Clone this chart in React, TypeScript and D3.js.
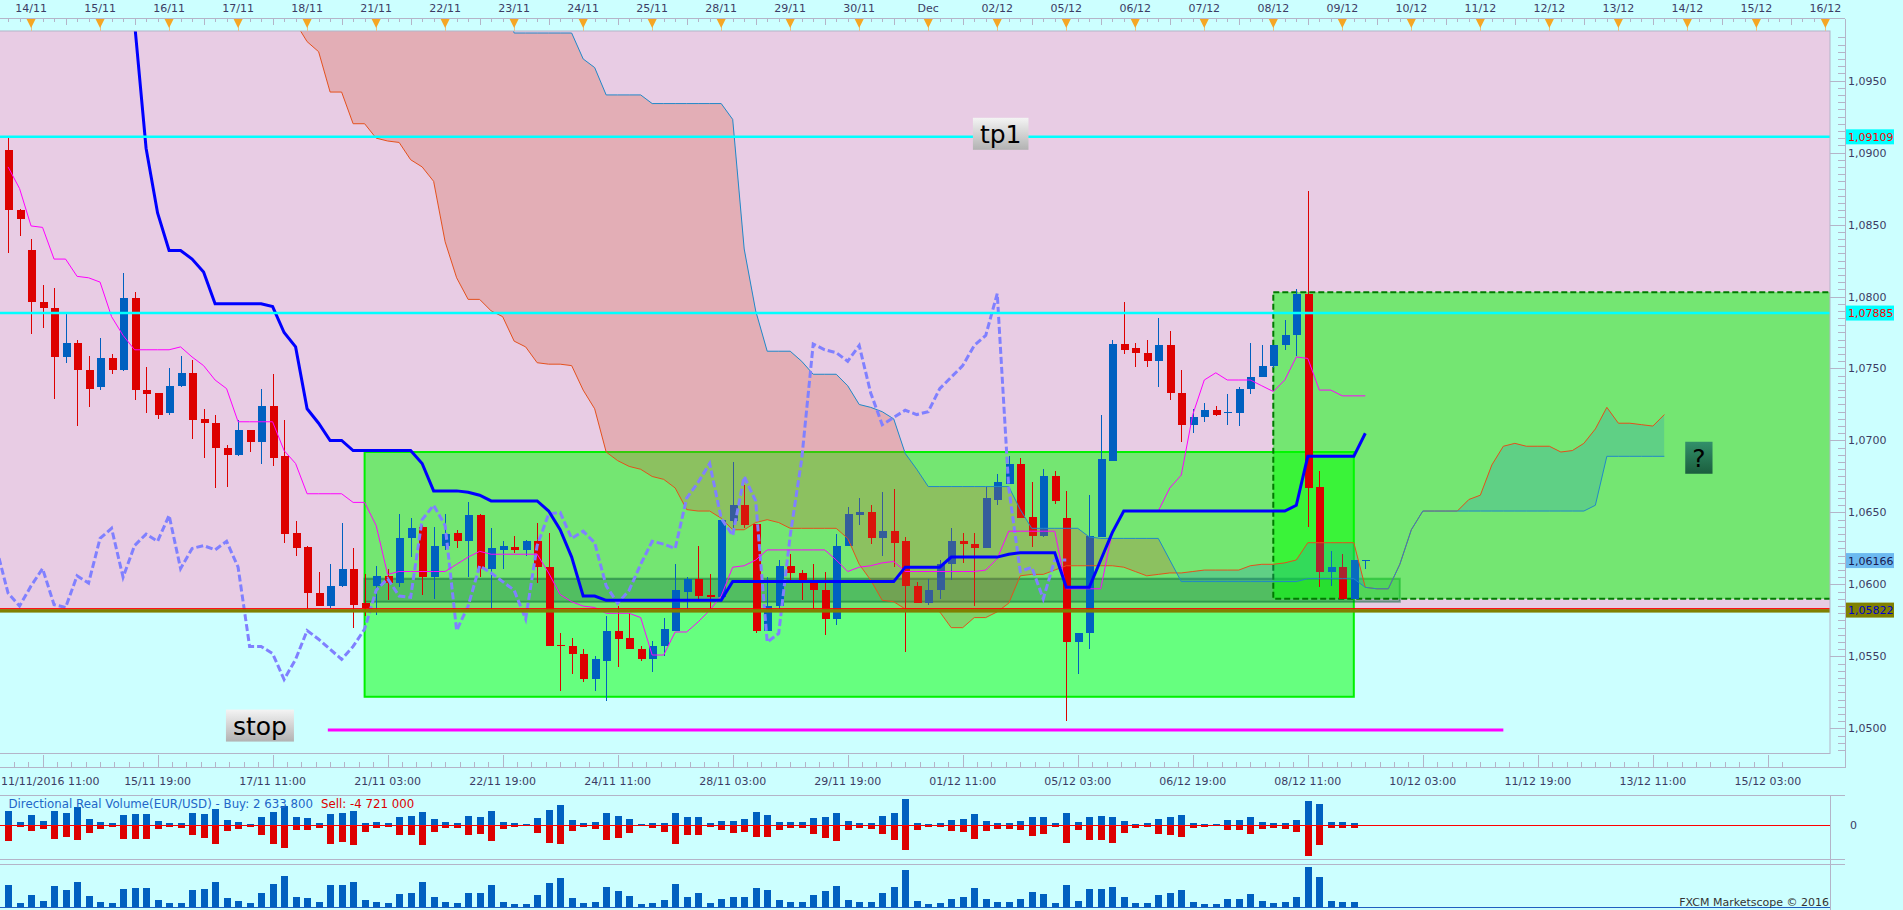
import { useEffect, useRef } from "react";
import * as d3 from "d3";

// 4h candles, index 0 = first visible candle
const open = [
  1.0902, 1.0860, 1.0832, 1.0796, 1.0792, 1.0758, 1.0768, 1.0749, 1.0737, 1.0757,
  1.0749, 1.0799, 1.0735, 1.0733, 1.0719, 1.0738, 1.0747, 1.0715, 1.0712, 1.0695,
  1.0690, 1.0707, 1.0699, 1.0724, 1.0689, 1.0636, 1.0626, 1.0594, 1.0585, 1.0599,
  1.0611, 1.0587, 1.0599, 1.0606, 1.0601, 1.0632, 1.0640, 1.0605, 1.0627, 1.0636,
  1.0630, 1.0648, 1.0611, 1.0624, 1.0626, 1.0624, 1.0630, 1.0612, 1.0558, 1.0557,
  1.0552, 1.0534, 1.0547, 1.0568, 1.0563, 1.0555, 1.0548, 1.0557, 1.0568, 1.0595,
  1.0604, 1.0593, 1.0591, 1.0644, 1.0655, 1.0642, 1.0568, 1.0585, 1.0613, 1.0608,
  1.0603, 1.0596, 1.0576, 1.0627, 1.0648, 1.0650, 1.0632, 1.0637, 1.0630, 1.0599,
  1.0587, 1.0596, 1.0614, 1.0630, 1.0628, 1.0625, 1.0659, 1.0670, 1.0684, 1.0647,
  1.0634, 1.0675, 1.0646, 1.0560, 1.0566, 1.0633, 1.0686, 1.0767, 1.0764, 1.0761,
  1.0755, 1.0766, 1.0733, 1.0711, 1.0716, 1.0721, 1.0719, 1.0719, 1.0736, 1.0744,
  1.0752, 1.0766, 1.0773, 1.0802, 1.0668, 1.0609, 1.0612, 1.0590, 1.0617,
];
const high = [
  1.0911, 1.0861, 1.0840, 1.0808, 1.0806, 1.0788, 1.0770, 1.0759, 1.0771, 1.0760,
  1.0816, 1.0803, 1.0751, 1.0733, 1.0750, 1.0759, 1.0756, 1.0722, 1.0718, 1.0697,
  1.0714, 1.0707, 1.0736, 1.0746, 1.0714, 1.0644, 1.0627, 1.0609, 1.0614, 1.0643,
  1.0625, 1.0607, 1.0613, 1.0611, 1.0649, 1.0646, 1.0641, 1.0640, 1.0649, 1.0638,
  1.0657, 1.0649, 1.0639, 1.0630, 1.0634, 1.0631, 1.0643, 1.0636, 1.0566, 1.0563,
  1.0555, 1.0550, 1.0578, 1.0585, 1.0580, 1.0557, 1.0561, 1.0577, 1.0614, 1.0605,
  1.0627, 1.0607, 1.0645, 1.0685, 1.0669, 1.0642, 1.0605, 1.0617, 1.0621, 1.0610,
  1.0614, 1.0609, 1.0635, 1.0654, 1.0660, 1.0655, 1.0664, 1.0666, 1.0633, 1.0602,
  1.0604, 1.0617, 1.0639, 1.0636, 1.0636, 1.0668, 1.0677, 1.0689, 1.0688, 1.0671,
  1.0680, 1.0679, 1.0665, 1.0566, 1.0662, 1.0718, 1.0770, 1.0796, 1.0768, 1.0770,
  1.0785, 1.0776, 1.0749, 1.0722, 1.0726, 1.0724, 1.0732, 1.0737, 1.0768, 1.0766,
  1.0766, 1.0784, 1.0805, 1.0873, 1.0679, 1.0623, 1.0621, 1.0617, 1.0617,
];
const low = [
  1.0830, 1.0842, 1.0774, 1.0778, 1.0729, 1.0754, 1.0710, 1.0723, 1.0735, 1.0746,
  1.0748, 1.0728, 1.0719, 1.0715, 1.0718, 1.0737, 1.0701, 1.0688, 1.0667, 1.0668,
  1.0689, 1.0692, 1.0684, 1.0682, 1.0629, 1.0620, 1.0583, 1.0585, 1.0584, 1.0598,
  1.0570, 1.0578, 1.0579, 1.0589, 1.0598, 1.0619, 1.0593, 1.0590, 1.0624, 1.0625,
  1.0605, 1.0605, 1.0583, 1.0611, 1.0622, 1.0620, 1.0601, 1.0557, 1.0526, 1.0538,
  1.0532, 1.0526, 1.0519, 1.0543, 1.0555, 1.0547, 1.0539, 1.0550, 1.0568, 1.0583,
  1.0589, 1.0583, 1.0589, 1.0638, 1.0639, 1.0566, 1.0568, 1.0583, 1.0602, 1.0589,
  1.0583, 1.0565, 1.0572, 1.0627, 1.0641, 1.0628, 1.0620, 1.0612, 1.0553, 1.0587,
  1.0586, 1.0590, 1.0603, 1.0615, 1.0585, 1.0625, 1.0655, 1.0670, 1.0646, 1.0626,
  1.0633, 1.0656, 1.0505, 1.0538, 1.0555, 1.0633, 1.0686, 1.0760, 1.0751, 1.0751,
  1.0737, 1.0728, 1.0699, 1.0705, 1.0713, 1.0717, 1.0711, 1.0710, 1.0732, 1.0744,
  1.0750, 1.0763, 1.0759, 1.0640, 1.0598, 1.0599, 1.0590, 1.0590, 1.0611,
];
const close = [
  1.0860, 1.0854, 1.0796, 1.0792, 1.0758, 1.0768, 1.0749, 1.0736, 1.0757, 1.0749,
  1.0799, 1.0735, 1.0732, 1.0718, 1.0738, 1.0747, 1.0714, 1.0712, 1.0695, 1.0690,
  1.0707, 1.0699, 1.0724, 1.0688, 1.0635, 1.0625, 1.0594, 1.0585, 1.0599, 1.0611,
  1.0586, 1.0584, 1.0606, 1.0601, 1.0632, 1.0639, 1.0605, 1.0627, 1.0635, 1.0630,
  1.0648, 1.0611, 1.0625, 1.0627, 1.0624, 1.0630, 1.0612, 1.0557, 1.0557, 1.0552,
  1.0534, 1.0548, 1.0568, 1.0562, 1.0555, 1.0548, 1.0557, 1.0569, 1.0596, 1.0604,
  1.0592, 1.0591, 1.0645, 1.0655, 1.0641, 1.0568, 1.0585, 1.0613, 1.0608, 1.0602,
  1.0596, 1.0576, 1.0627, 1.0649, 1.0650, 1.0632, 1.0637, 1.0629, 1.0599, 1.0587,
  1.0596, 1.0614, 1.0630, 1.0628, 1.0625, 1.0660, 1.0671, 1.0684, 1.0646, 1.0634,
  1.0675, 1.0658, 1.0560, 1.0566, 1.0634, 1.0687, 1.0767, 1.0763, 1.0761, 1.0755,
  1.0766, 1.0733, 1.0711, 1.0716, 1.0721, 1.0718, 1.0720, 1.0736, 1.0744, 1.0752,
  1.0766, 1.0773, 1.0802, 1.0667, 1.0609, 1.0612, 1.0590, 1.0617, 1.0617,
];

// ichimoku lines
const tenkan = [
  1.0890, 1.0875, 1.0849, 1.0848, 1.0826, 1.0826, 1.0814, 1.0813, 1.0810, 1.0786,
  1.0773, 1.0763, 1.0763, 1.0763, 1.0763, 1.0765, 1.0758, 1.0752, 1.0742, 1.0736,
  1.0713, 1.0713, 1.0713, 1.0713, 1.0693, 1.0684, 1.0663, 1.0663, 1.0663, 1.0663,
  1.0657, 1.0657, 1.0641, 1.0607, 1.0609, 1.0609, 1.0609, 1.0609, 1.0609, 1.0614,
  1.0619, 1.0623, 1.0621, 1.0621, 1.0621, 1.0621, 1.0621, 1.0608, 1.0593, 1.0588,
  1.0585, 1.0584, 1.0580, 1.0580, 1.0580, 1.0577, 1.0551, 1.0551, 1.0567, 1.0567,
  1.0574, 1.0582, 1.0592, 1.0612, 1.0613, 1.0617, 1.0624, 1.0624, 1.0624, 1.0624,
  1.0624, 1.0624, 1.0617, 1.0609, 1.0612, 1.0613, 1.0615, 1.0616, 1.0609, 1.0609,
  1.0609, 1.0609, 1.0609, 1.0609, 1.0609, 1.0610, 1.0618, 1.0637, 1.0637, 1.0637,
  1.0637, 1.0637, 1.0597, 1.0597, 1.0597, 1.0597, 1.0637, 1.0651, 1.0651, 1.0651,
  1.0651, 1.0667, 1.0676, 1.0718, 1.0742, 1.0747, 1.0742, 1.0742, 1.0742, 1.0738,
  1.0734, 1.0742, 1.0758, 1.0757, 1.0735, 1.0735, 1.0731, 1.0731, 1.0731,
];
const kijunStart = 10;
const kijun = [
  1.1010, 1.0990, 1.0903, 1.0858, 1.0832, 1.0832, 1.0826, 1.0817, 1.0795, 1.0795,
  1.0795, 1.0795, 1.0795, 1.0793, 1.0775, 1.0765, 1.0722, 1.0712, 1.0700, 1.0700,
  1.0693, 1.0693, 1.0693, 1.0693, 1.0693, 1.0693, 1.0684, 1.0665, 1.0665, 1.0665,
  1.0664, 1.0662, 1.0658, 1.0658, 1.0658, 1.0658, 1.0658, 1.0651, 1.0638, 1.0619,
  1.0592, 1.0592, 1.0589, 1.0589, 1.0589, 1.0589, 1.0589, 1.0589, 1.0589, 1.0589,
  1.0589, 1.0589, 1.0589, 1.0602, 1.0602, 1.0602, 1.0602, 1.0602, 1.0602, 1.0602,
  1.0602, 1.0602, 1.0602, 1.0602, 1.0602, 1.0602, 1.0602, 1.0602, 1.0612, 1.0612,
  1.0612, 1.0612, 1.0619, 1.0619, 1.0619, 1.0619, 1.0619, 1.0621, 1.0622, 1.0622,
  1.0622, 1.0622, 1.0598, 1.0598, 1.0598, 1.0617, 1.0636, 1.0651, 1.0651, 1.0651,
  1.0651, 1.0651, 1.0651, 1.0651, 1.0651, 1.0651, 1.0651, 1.0651, 1.0651, 1.0651,
  1.0651, 1.0651, 1.0655, 1.0689, 1.0689, 1.0689, 1.0689, 1.0689, 1.0705,
];
const chikouShift = 26;
const cloudStart = 24;
const senkouA = [
  1.1000, 1.0990, 1.0977, 1.0970, 1.0942, 1.0942, 1.0920, 1.0920, 1.0910, 1.0908,
  1.0907, 1.0895, 1.0890, 1.0880, 1.0838, 1.0813, 1.0798, 1.0798, 1.0790, 1.0786,
  1.0769, 1.0765, 1.0754, 1.0753, 1.0753, 1.0752, 1.0735, 1.0722, 1.0692, 1.0686,
  1.0682, 1.0680, 1.0675, 1.0673, 1.0667, 1.0652, 1.0651, 1.0651, 1.0646, 1.0638,
  1.0638, 1.0643, 1.0645, 1.0643, 1.0639, 1.0639, 1.0639, 1.0639, 1.0639, 1.0632,
  1.0614, 1.0603, 1.0589, 1.0588, 1.0583, 1.0583, 1.0583, 1.0581, 1.0570, 1.0570,
  1.0577, 1.0577, 1.0581, 1.0587, 1.0606, 1.0607, 1.0607, 1.0610, 1.0613, 1.0613,
  1.0613, 1.0613, 1.0613, 1.0612, 1.0609, 1.0606, 1.0607, 1.0608, 1.0608, 1.0609,
  1.0610, 1.0610, 1.0610, 1.0610, 1.0613, 1.0614, 1.0614, 1.0615, 1.0617, 1.0629,
  1.0629, 1.0629, 1.0629, 1.0629, 1.0598, 1.0597, 1.0597, 1.0614, 1.0638, 1.0651,
  1.0651, 1.0651, 1.0651, 1.0659, 1.0662, 1.0683, 1.0696, 1.0698, 1.0696, 1.0696,
  1.0696, 1.0692, 1.0693, 1.0698, 1.0708, 1.0723, 1.0712, 1.0712, 1.0711, 1.0710,
  1.0718,
];
const senkouB = [
  1.1010, 1.1010, 1.1010, 1.1010, 1.1010, 1.1010, 1.1010, 1.1010, 1.1010, 1.1010,
  1.1010, 1.1010, 1.1010, 1.1010, 1.1010, 1.1010, 1.1010, 1.1010, 1.1010, 1.1010,
  1.0983, 1.0983, 1.0983, 1.0983, 1.0983, 1.0983, 1.0965, 1.0959, 1.0940, 1.0940,
  1.0940, 1.0940, 1.0934, 1.0934, 1.0934, 1.0934, 1.0934, 1.0934, 1.0934, 1.0923,
  1.0833, 1.0790, 1.0762, 1.0762, 1.0762, 1.0755, 1.0746, 1.0746, 1.0746, 1.0738,
  1.0725, 1.0723, 1.0720, 1.0715, 1.0691, 1.0680, 1.0668, 1.0668, 1.0668, 1.0668,
  1.0668, 1.0668, 1.0668, 1.0668, 1.0652, 1.0639, 1.0639, 1.0639, 1.0639, 1.0639,
  1.0633, 1.0632, 1.0632, 1.0632, 1.0632, 1.0632, 1.0632, 1.0617, 1.0602, 1.0602,
  1.0602, 1.0602, 1.0602, 1.0602, 1.0602, 1.0602, 1.0602, 1.0602, 1.0602, 1.0604,
  1.0604, 1.0604, 1.0604, 1.0604, 1.0598, 1.0597, 1.0597, 1.0614, 1.0638, 1.0651,
  1.0651, 1.0651, 1.0651, 1.0651, 1.0651, 1.0651, 1.0651, 1.0651, 1.0651, 1.0651,
  1.0651, 1.0651, 1.0651, 1.0651, 1.0655, 1.0689, 1.0689, 1.0689, 1.0689, 1.0689,
  1.0689,
];

// volume panels (same candle index)
const buyVol = [
  43, 10, 31, 13, 43, 37, 55, 19, 10, 7, 31, 34, 34, 13, 7, 7, 37, 34, 49, 16,
  10, 4, 25, 40, 58, 25, 22, 7, 34, 37, 43, 7, 10, 7, 25, 28, 40, 19, 10, 7,
  28, 25, 43, 10, 7, 4, 22, 46, 61, 16, 7, 10, 37, 28, 19, 4, 7, 7, 37, 25,
  25, 7, 13, 13, 19, 40, 31, 10, 10, 10, 22, 25, 37, 13, 7, 7, 28, 37, 79, 7,
  4, 7, 16, 19, 34, 13, 7, 7, 13, 25, 25, 7, 37, 10, 25, 28, 25, 13, 4, 7,
  19, 25, 31, 7, 4, 4, 16, 16, 25, 10, 7, 7, 16, 73, 64, 10, 10, 7,
];
const sellVol = [
  47, 5, 17, 11, 41, 35, 44, 23, 11, 5, 41, 41, 41, 11, 5, 8, 29, 38, 56, 17,
  11, 5, 29, 56, 68, 14, 14, 8, 56, 50, 59, 20, 8, 5, 29, 29, 59, 20, 8, 8,
  29, 26, 47, 11, 5, 2, 23, 53, 56, 17, 5, 11, 44, 38, 23, 2, 8, 20, 56, 29,
  29, 5, 14, 23, 20, 35, 35, 14, 8, 8, 26, 38, 47, 14, 8, 11, 26, 44, 74, 14,
  5, 5, 17, 20, 41, 17, 11, 11, 14, 32, 26, 5, 53, 14, 44, 44, 53, 23, 8, 5,
  26, 29, 35, 8, 5, 2, 14, 14, 26, 11, 8, 11, 20, 92, 59, 8, 8, 8,
];
const totalVol = [
  65, 11, 35, 17, 62, 50, 74, 32, 14, 11, 53, 56, 56, 20, 11, 11, 50, 53, 74, 26,
  17, 11, 41, 68, 92, 29, 26, 14, 65, 65, 74, 20, 14, 11, 38, 41, 74, 29, 14, 11,
  41, 41, 65, 14, 8, 8, 35, 71, 86, 26, 11, 14, 59, 47, 32, 8, 11, 20, 68, 29,
  41, 11, 23, 29, 29, 56, 50, 20, 14, 14, 35, 47, 62, 20, 14, 14, 41, 59, 110, 17,
  8, 11, 23, 29, 56, 23, 14, 14, 23, 44, 38, 11, 65, 17, 53, 53, 59, 29, 11, 11,
  35, 41, 50, 14, 8, 8, 23, 23, 38, 17, 11, 14, 29, 119, 89, 17, 14, 14,
];

const topDays = [
  "14/11", "15/11", "16/11", "17/11", "18/11", "21/11", "22/11", "23/11", "24/11",
  "25/11", "28/11", "29/11", "30/11", "Dec", "02/12", "05/12", "06/12", "07/12",
  "08/12", "09/12", "10/12", "11/12", "12/12", "13/12", "14/12", "15/12", "16/12",
];
const bottomLabels = [
  "11/11/2016 11:00", "15/11 19:00", "17/11 11:00", "21/11 03:00", "22/11 19:00",
  "24/11 11:00", "28/11 03:00", "29/11 19:00", "01/12 11:00", "05/12 03:00",
  "06/12 19:00", "08/12 11:00", "10/12 03:00", "11/12 19:00", "13/12 11:00",
  "15/12 03:00",
];
const priceTicks = [1.05, 1.055, 1.06, 1.065, 1.07, 1.075, 1.08, 1.085, 1.09, 1.095];

// drawn objects (candle index / price)
const tpLevels = [1.09109, 1.07885];
const baseLevel = 1.05822;
const stopLine = { from: 27.8, to: 130, price: 1.0499 };
const zones = [
  { kind: "box", from: 31, to: 117, top: 1.0692, bottom: 1.0522 },
  { kind: "band", from: 31, to: 121, top: 1.0604, bottom: 1.0588 },
  { kind: "dashed", from: 110, to: 160, top: 1.0803, bottom: 1.0590 },
];
const notes = [
  { text: "tp1", k: 86.3, price: 1.0913, tone: "grey" },
  { text: "stop", k: 21.9, price: 1.0502, tone: "grey" },
  { text: "?", k: 147, price: 1.0688, tone: "green" },
];
const axisMarks = [1.09109, 1.07885, 1.06166, 1.05822];

const W = 1903;
const H = 910;

export default function App() {
  const svgRef = useRef<SVGSVGElement>(null);

  useEffect(() => {
    if (!svgRef.current) return;
    document.body.style.margin = "0";
    const svg = d3.select(svgRef.current);
    svg.selectAll("*").remove();

    const plotL = 0, plotR = 1830, plotT = 31, plotB = 753.5;
    const axisX = 1845;
    const font = "DejaVu Sans, Verdana, sans-serif";
    const grey = "#B4B4C8";
    const txt = "#3C3C64";
    const bull = "#0060C0";
    const bear = "#DD0000";

    const x = d3.scaleLinear().domain([-0.7, 158.4]).range([plotL, plotR]);
    const y = d3.scaleLinear().domain([1.04826, 1.09844]).range([plotB, plotT]);
    const comma = (f: string) => (v: number) => d3.format(f)(v).replace(".", ",");

    svg.append("rect").attr("width", W).attr("height", H).attr("fill", "#CCFFFF");

    const defs = svg.append("defs");
    defs.append("clipPath").attr("id", "plotClip")
      .append("rect").attr("x", plotL).attr("y", plotT)
      .attr("width", plotR - plotL).attr("height", plotB - plotT);

    const grad = (id: string, c0: string, c1: string) => {
      const lg = defs.append("linearGradient").attr("id", id)
        .attr("x1", 0).attr("y1", 0).attr("x2", 0).attr("y2", 1);
      lg.append("stop").attr("offset", "0%").attr("stop-color", c0);
      lg.append("stop").attr("offset", "100%").attr("stop-color", c1);
    };
    grad("greyTone", "#F4F4F4", "#B2B2B2");
    grad("greenTone", "#32906A", "#1B5E3E");

    const g = svg.append("g").attr("clip-path", "url(#plotClip)");

    // pink zone above the base level
    g.append("rect").attr("x", plotL).attr("y", plotT)
      .attr("width", plotR - plotL).attr("height", y(baseLevel) - plotT)
      .attr("fill", "#E8CCE4");

    // zones
    zones.forEach((z) => {
      const r = g.append("rect")
        .attr("x", x(z.from)).attr("y", y(z.top))
        .attr("width", x(z.to) - x(z.from)).attr("height", y(z.bottom) - y(z.top));
      if (z.kind === "box") {
        r.attr("fill", "rgba(0,255,0,0.5)").attr("stroke", "#00F000").attr("stroke-width", 2);
      } else if (z.kind === "band") {
        r.attr("fill", "rgba(0,100,60,0.3)").attr("stroke", "rgba(0,90,50,0.45)").attr("stroke-width", 2);
      } else {
        r.attr("fill", "rgba(0,255,0,0.5)").attr("stroke", "#007A00")
          .attr("stroke-width", 2).attr("stroke-dasharray", "6,3");
      }
    });

    // candles
    const cg = g.append("g").attr("shape-rendering", "crispEdges");
    open.forEach((o, i) => {
      const c = close[i];
      const col = c >= o ? bull : bear;
      const cx = Math.round(x(i));
      cg.append("rect").attr("x", cx).attr("width", 1)
        .attr("y", y(high[i])).attr("height", Math.max(1, y(low[i]) - y(high[i])))
        .attr("fill", col);
      const yt = y(Math.max(o, c));
      const yb = y(Math.min(o, c));
      cg.append("rect").attr("x", cx - 3.5).attr("width", 8)
        .attr("y", yt).attr("height", Math.max(1.5, yb - yt)).attr("fill", col);
    });

    // cloud
    const cx = (j: number) => x(j + cloudStart);
    defs.append("clipPath").attr("id", "aboveB").append("path")
      .attr("d", d3.area<number>().x((_, j) => cx(j)).y0(plotT - 20).y1((v) => y(v))(senkouB) as string);
    defs.append("clipPath").attr("id", "aboveA").append("path")
      .attr("d", d3.area<number>().x((_, j) => cx(j)).y0(plotT - 20).y1((v) => y(v))(senkouA) as string);
    const between = d3.area<number>().x((_, j) => cx(j))
      .y0((v) => y(v)).y1((_, j) => y(senkouB[j]));
    g.append("g").attr("clip-path", "url(#aboveB)").append("path")
      .attr("d", between(senkouA) as string).attr("fill", "rgba(30,144,190,0.25)");
    g.append("g").attr("clip-path", "url(#aboveA)").append("path")
      .attr("d", between(senkouA) as string).attr("fill", "rgba(212,82,43,0.25)");

    const cloudLine = d3.line<number>().x((_, j) => cx(j)).y((v) => y(v));
    g.append("path").attr("d", cloudLine(senkouA) as string)
      .attr("fill", "none").attr("stroke", "#E4501C").attr("stroke-width", 1);
    g.append("path").attr("d", cloudLine(senkouB) as string)
      .attr("fill", "none").attr("stroke", "#2088C8").attr("stroke-width", 1);

    // chikou = close shifted back (one extra point so it reaches the left edge)
    const chikou = close.slice(chikouShift - 1);
    g.append("path")
      .attr("d", d3.line<number>().x((_, j) => x(j - 1)).y((v) => y(v))(chikou) as string)
      .attr("fill", "none").attr("stroke", "#8080FF").attr("stroke-width", 3)
      .attr("stroke-dasharray", "7,3");

    g.append("path")
      .attr("d", d3.line<number>().x((_, j) => x(j)).y((v) => y(v))(tenkan) as string)
      .attr("fill", "none").attr("stroke", "#FF00FF").attr("stroke-width", 1);
    g.append("path")
      .attr("d", d3.line<number>().x((_, j) => x(j + kijunStart)).y((v) => y(v))(kijun) as string)
      .attr("fill", "none").attr("stroke", "#0000FF").attr("stroke-width", 3);

    // horizontal levels
    tpLevels.forEach((p) => {
      g.append("line").attr("x1", plotL).attr("x2", plotR)
        .attr("y1", y(p)).attr("y2", y(p))
        .attr("stroke", "#00FFFF").attr("stroke-width", 2.5);
    });
    g.append("rect").attr("x", plotL).attr("width", plotR - plotL)
      .attr("y", y(baseLevel) - 1).attr("height", 3.5).attr("fill", "#808000");
    g.append("line").attr("x1", plotL).attr("x2", plotR)
      .attr("y1", y(baseLevel) - 1.5).attr("y2", y(baseLevel) - 1.5)
      .attr("stroke", "#FF0000").attr("stroke-width", 1);
    g.append("line").attr("x1", x(stopLine.from)).attr("x2", x(stopLine.to))
      .attr("y1", y(stopLine.price)).attr("y2", y(stopLine.price))
      .attr("stroke", "#FF00FF").attr("stroke-width", 3);

    // text notes
    notes.forEach((n) => {
      const ng = g.append("g");
      const box = ng.append("rect");
      const t = ng.append("text").attr("x", x(n.k)).attr("y", y(n.price) + 9)
        .attr("text-anchor", "middle").attr("font-family", font)
        .attr("font-size", 25).attr("fill", "#000").text(n.text);
      const tw = (t.node() as SVGTextElement).getComputedTextLength();
      const bw = tw + 14;
      box.attr("x", x(n.k) - bw / 2).attr("y", y(n.price) - 16)
        .attr("width", bw).attr("height", 32)
        .attr("fill", n.tone === "green" ? "url(#greenTone)" : "url(#greyTone)");
    });

    // frame
    svg.append("rect").attr("x", plotL - 1).attr("y", plotT).attr("width", plotR - plotL + 1)
      .attr("height", plotB - plotT).attr("fill", "none").attr("stroke", grey);

    // top axis
    const top = svg.append("g").attr("shape-rendering", "crispEdges");
    top.append("line").attr("x1", 0).attr("x2", axisX).attr("y1", 18.5).attr("y2", 18.5).attr("stroke", grey);
    d3.range(0, 159).forEach((k) => {
      const xx = Math.round(x(k)) + 0.5;
      const mid = (k - 5) % 6 === 0;
      top.append("line").attr("x1", xx).attr("x2", xx).attr("y1", 18.5)
        .attr("y2", mid ? 25 : 22).attr("stroke", grey);
    });
    topDays.forEach((d, i) => {
      const xx = x(2 + 6 * i);
      top.append("line").attr("x1", Math.round(xx) + 0.5).attr("x2", Math.round(xx) + 0.5)
        .attr("y1", 26).attr("y2", 31).attr("stroke", "#E8C090");
      svg.append("path")
        .attr("d", `M${xx - 4.5},19 L${xx + 4.5},19 L${xx},28 Z`).attr("fill", "#F5A623");
      svg.append("text").attr("x", xx).attr("y", 12).attr("text-anchor", "middle")
        .attr("font-family", font).attr("font-size", 11).attr("fill", txt).text(d);
    });

    // right axis
    const ra = svg.append("g").attr("shape-rendering", "crispEdges");
    ra.append("line").attr("x1", axisX + 0.5).attr("x2", axisX + 0.5)
      .attr("y1", 18.5).attr("y2", 768).attr("stroke", grey);
    d3.range(0, 100).forEach((i) => {
      const p = 1.0485 + i * 0.0005;
      if (p > 1.0984) return;
      const yy = Math.round(y(p)) + 0.5;
      const major = i % 10 === 3;
      ra.append("line").attr("x1", major ? plotR : axisX - 7).attr("x2", axisX)
        .attr("y1", yy).attr("y2", yy).attr("stroke", grey);
    });
    priceTicks.forEach((p) => {
      svg.append("text").attr("x", 1848).attr("y", y(p) + 4)
        .attr("font-family", font).attr("font-size", 11).attr("fill", txt)
        .text(comma(".4f")(p));
    });
    const markStyles = [
      { bg: "#00FFFF", fg: "#FF0000" },
      { bg: "#00FFFF", fg: "#FF0000" },
      { bg: "#6CBAF0", fg: "#1A1A50" },
      { bg: "#808000", fg: "#0000CC" },
    ];
    axisMarks.forEach((p, i) => {
      svg.append("rect").attr("x", 1846).attr("y", y(p) - 7.5)
        .attr("width", 48).attr("height", 15).attr("fill", markStyles[i].bg);
      svg.append("text").attr("x", 1848).attr("y", y(p) + 4)
        .attr("font-family", font).attr("font-size", 11).attr("fill", markStyles[i].fg)
        .text(comma(".5f")(p));
    });

    // bottom axis
    const ba = svg.append("g").attr("shape-rendering", "crispEdges");
    ba.append("line").attr("x1", 0).attr("x2", axisX).attr("y1", 767.5).attr("y2", 767.5).attr("stroke", grey);
    d3.range(0, 130).forEach((i) => {
      const k = 3 - 10 + i * 1.25;
      const xx = Math.round(x(k)) + 0.5;
      if (xx < 0 || xx > axisX) return;
      const major = i % 8 === 0;
      ba.append("line").attr("x1", xx).attr("x2", xx)
        .attr("y1", major ? 755 : 762).attr("y2", 767.5).attr("stroke", grey);
    });
    bottomLabels.forEach((l, i) => {
      const xx = x(3 + 10 * i);
      svg.append("text").attr("x", i === 0 ? 1 : xx).attr("y", 785)
        .attr("text-anchor", i === 0 ? "start" : "middle")
        .attr("font-family", font).attr("font-size", 11).attr("fill", txt).text(l);
    });

    // volume panels
    const vp = svg.append("g").attr("shape-rendering", "crispEdges");
    [795.5, 859.5, 864.5].forEach((yy) => {
      vp.append("line").attr("x1", 0).attr("x2", axisX).attr("y1", yy).attr("y2", yy).attr("stroke", grey);
    });
    vp.append("line").attr("x1", plotR + 0.5).attr("x2", plotR + 0.5).attr("y1", 795).attr("y2", H).attr("stroke", grey);

    const v1 = d3.scaleLinear().domain([-101, 91]).range([859, 795]);
    const v2 = d3.scaleLinear().domain([0, 127]).range([906.7, 864.3]);
    buyVol.forEach((b, i) => {
      const bx = Math.round(x(i)) - 3.5;
      vp.append("rect").attr("x", bx).attr("width", 7.5)
        .attr("y", v1(b)).attr("height", v1(0) - v1(b)).attr("fill", bull);
      vp.append("rect").attr("x", bx).attr("width", 7.5)
        .attr("y", v1(0)).attr("height", v1(-sellVol[i]) - v1(0)).attr("fill", bear);
      vp.append("rect").attr("x", bx).attr("width", 7.5)
        .attr("y", v2(totalVol[i])).attr("height", v2(0) - v2(totalVol[i])).attr("fill", bull);
    });
    vp.append("line").attr("x1", 0).attr("x2", plotR).attr("y1", v1(0)).attr("y2", v1(0))
      .attr("stroke", "#FF0000");
    vp.append("line").attr("x1", 0).attr("x2", plotR).attr("y1", v2(0) + 0.5).attr("y2", v2(0) + 0.5)
      .attr("stroke", "#2060C0");

    const lab = svg.append("text").attr("y", 808)
      .attr("font-family", font).attr("font-size", 11.8);
    lab.append("tspan").attr("x", 8.5).attr("fill", "#2266C8")
      .text("Directional Real Volume(EUR/USD) -  Buy: 2 633 800");
    lab.append("tspan").attr("x", 321).attr("fill", "#DD0000").text("Sell: -4 721 000");
    svg.append("text").attr("x", 1850).attr("y", v1(0) + 4)
      .attr("font-family", font).attr("font-size", 11).attr("fill", txt).text("0");
    svg.append("text").attr("x", 1829).attr("y", 906).attr("text-anchor", "end")
      .attr("font-family", font).attr("font-size", 11).attr("fill", "#333").text("FXCM Marketscope © 2016");
  }, []);

  return <svg ref={svgRef} width={W} height={H} style={{ display: "block" }} />;
}
